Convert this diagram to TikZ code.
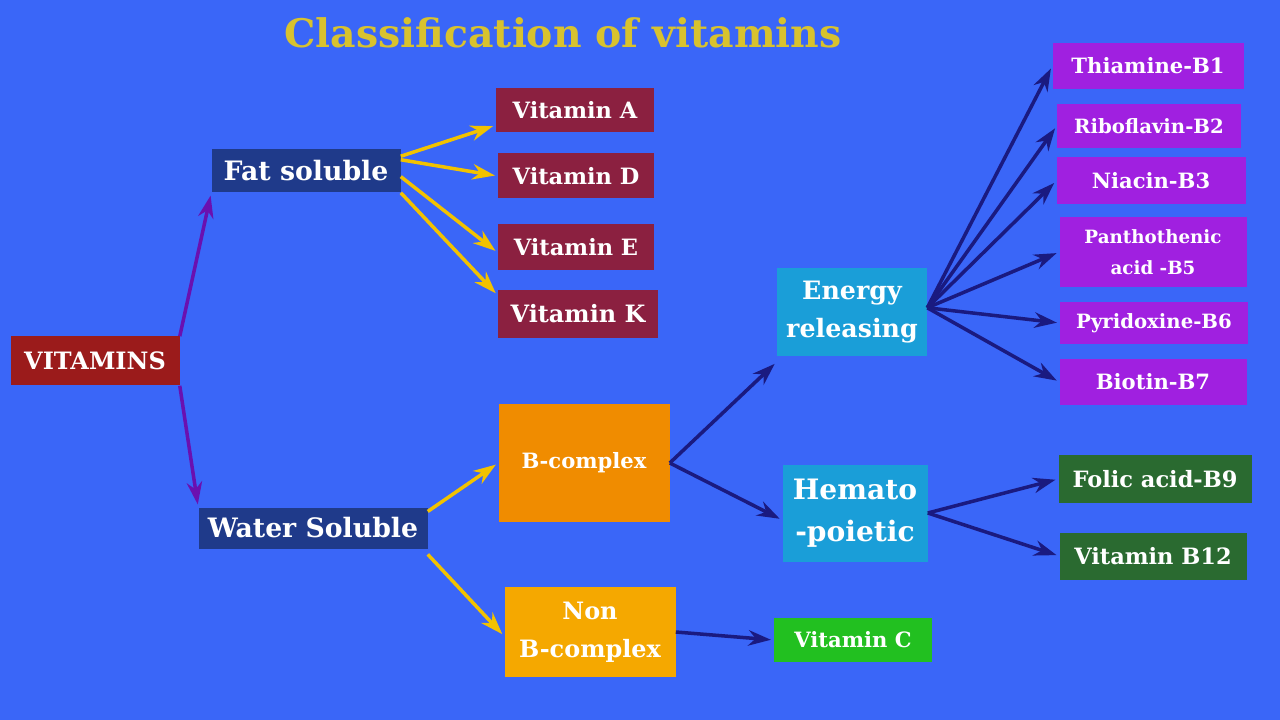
\documentclass[tikz,border=0pt]{standalone}
\usepackage{fontspec}
\setmainfont{DejaVu Serif}
\usetikzlibrary{arrows.meta}
\definecolor{bg}{HTML}{3A66F8}
\definecolor{ttl}{HTML}{D8C22E}
\definecolor{vred}{HTML}{9B1B1B}
\definecolor{navy}{HTML}{1F3A8A}
\definecolor{maroon}{HTML}{8B2040}
\definecolor{orng}{HTML}{F08C00}
\definecolor{orng2}{HTML}{F5A800}
\definecolor{cyn}{HTML}{1A9ED8}
\definecolor{grn}{HTML}{22C020}
\definecolor{purp}{HTML}{A020E0}
\definecolor{dgrn}{HTML}{2A6A30}
\definecolor{violet}{HTML}{6A10B0}
\definecolor{yarr}{HTML}{F2C200}
\definecolor{darr}{HTML}{1A1A80}
\tikzset{
  box/.style={text=white, font=\bfseries, inner sep=0pt, align=center},
  parr/.style={draw=violet, line width=2.5pt, -{Stealth[length=16pt,width=11pt]}, shorten >=2pt},
  yarw/.style={draw=yarr, line width=2.5pt, -{Stealth[length=16pt,width=11pt]}, shorten >=2pt},
  darw/.style={draw=darr, line width=2.5pt, -{Stealth[length=16pt,width=11pt]}, shorten >=2pt},
}
\begin{document}
\begin{tikzpicture}[x=0.025cm, y=-0.025cm]
    \fill[bg] (0,0) rectangle (1280,720);

    \node[font=\bfseries\fontsize{28}{30}\selectfont, text=ttl] (title) at (563,33) {Classification of vitamins};

    \node[box, fill=vred, minimum width=169*0.025cm, minimum height=49*0.025cm, font=\bfseries\fontsize{17}{19}\selectfont] (vit) at (95,361) {VITAMINS};
    \node[box, fill=navy, minimum width=189*0.025cm, minimum height=43*0.025cm, font=\bfseries\fontsize{19}{21}\selectfont] (fat) at (306,171) {Fat soluble};
    \node[box, fill=navy, minimum width=229*0.025cm, minimum height=41*0.025cm, font=\bfseries\fontsize{19}{21}\selectfont] (wat) at (313,528) {Water Soluble};

    % fat soluble
    \node[box, fill=maroon, minimum width=158*0.025cm, minimum height=44*0.025cm, font=\bfseries\fontsize{16}{18}\selectfont] (va) at (575,110) {Vitamin A};
    \node[box, fill=maroon, minimum width=156*0.025cm, minimum height=45*0.025cm, font=\bfseries\fontsize{16}{18}\selectfont] (vd) at (576,176) {Vitamin D};
    \node[box, fill=maroon, minimum width=156*0.025cm, minimum height=46*0.025cm, font=\bfseries\fontsize{16}{18}\selectfont] (ve) at (576,247) {Vitamin E};
    \node[box, fill=maroon, minimum width=160*0.025cm, minimum height=48*0.025cm, font=\bfseries\fontsize{17}{19}\selectfont] (vk) at (578,314) {Vitamin K};

    % water soluble
    \node[box, fill=orng, minimum width=171*0.025cm, minimum height=117*0.025cm, font=\bfseries\fontsize{15}{17}\selectfont] (bc) at (584,463) {B-complex};
    \node[box, fill=orng2, minimum width=171*0.025cm, minimum height=90*0.025cm, font=\bfseries\fontsize{17}{27}\selectfont] (nbc) at (590,632) {Non\\B-complex};
    \node[box, fill=cyn, minimum width=150*0.025cm, minimum height=88*0.025cm, font=\bfseries\fontsize{18}{27}\selectfont] (ene) at (852,312) {Energy\\releasing};
    \node[box, fill=cyn, minimum width=145*0.025cm, minimum height=97*0.025cm, font=\bfseries\fontsize{20}{30}\selectfont] (hem) at (855,513) {Hemato\\-poietic};
    \node[box, fill=grn, minimum width=158*0.025cm, minimum height=44*0.025cm, font=\bfseries\fontsize{15}{17}\selectfont] (vc) at (853,640) {Vitamin C};

    % B vitamins
    \node[box, fill=purp, minimum width=191*0.025cm, minimum height=46*0.025cm, font=\bfseries\fontsize{15}{17}\selectfont] (b1) at (1148,66) {Thiamine-B1};
    \node[box, fill=purp, minimum width=184*0.025cm, minimum height=44*0.025cm, font=\bfseries\fontsize{14}{16}\selectfont] (b2) at (1149,126) {Riboflavin-B2};
    \node[box, fill=purp, minimum width=189*0.025cm, minimum height=47*0.025cm, font=\bfseries\fontsize{15}{17}\selectfont] (b3) at (1151,181) {Niacin-B3};
    \node[box, fill=purp, minimum width=187*0.025cm, minimum height=70*0.025cm, font=\bfseries\fontsize{13}{22}\selectfont] (b5) at (1153,252) {Panthothenic\\acid -B5};
    \node[box, fill=purp, minimum width=188*0.025cm, minimum height=42*0.025cm, font=\bfseries\fontsize{14}{16}\selectfont] (b6) at (1154,323) {Pyridoxine-B6};
    \node[box, fill=purp, minimum width=187*0.025cm, minimum height=46*0.025cm, font=\bfseries\fontsize{15}{17}\selectfont] (b7) at (1153,382) {Biotin-B7};
    \node[box, fill=dgrn, minimum width=193*0.025cm, minimum height=48*0.025cm, font=\bfseries\fontsize{16}{18}\selectfont] (b9) at (1155,479) {Folic acid-B9};
    \node[box, fill=dgrn, minimum width=187*0.025cm, minimum height=47*0.025cm, font=\bfseries\fontsize{16}{18}\selectfont] (b12) at (1153,556) {Vitamin B12};

    % arrows
    \draw[parr] (vit.north east) -- (fat.south west);
    \draw[parr] (vit.south east) -- (wat.north west);

    \draw[yarw] ([yshift=-5pt]fat.north east) -- ([yshift=5pt]va.south west);
    \draw[yarw] ([yshift=8pt]fat.east) -- (vd.west);
    \draw[yarw] ([yshift=-4pt]fat.east) -- ([yshift=-4pt]ve.west);
    \draw[yarw] (fat.south east) -- ([yshift=-4pt]vk.north west);
    \draw[yarw] ([yshift=-3pt]wat.north east) -- (bc.west);
    \draw[yarw] ([yshift=-4pt]wat.south east) -- ([yshift=-3pt]nbc.west);

    \draw[darw] (bc.east) -- ([yshift=-4pt]ene.south west);
    \draw[darw] (bc.east) -- ([yshift=-5pt]hem.west);
    \draw[darw] (nbc.east) -- (vc.west);
    \foreach \n in {b1,b2,b3,b5,b6,b7}
        \draw[darw] ([yshift=3pt]ene.east) -- (\n.west);
    \draw[darw] (hem.east) -- (b9.west);
    \draw[darw] (hem.east) -- (b12.west);
\end{tikzpicture}
\end{document}
